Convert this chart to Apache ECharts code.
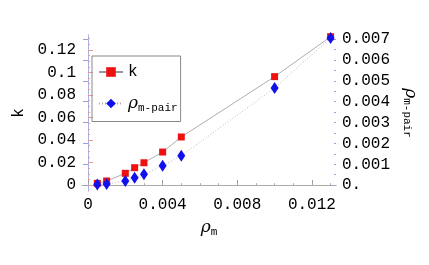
<!DOCTYPE html>
<html><head><meta charset="utf-8">
<script src="https://cdn.jsdelivr.net/npm/echarts@6/dist/echarts.min.js"></script>
<style>html,body{margin:0;padding:0;background:#fff}#c{width:429px;height:265px}</style>
</head><body><div id="c"></div>
<script>
// data
const rhoM = [0.0005, 0.001, 0.002, 0.0025, 0.003, 0.004, 0.005, 0.010, 0.013];
const kValues = [0.0015, 0.0036, 0.0104, 0.0154, 0.0198, 0.0293, 0.0427, 0.0963, 0.1318];
const rhoPair = [0.00003, 0.00005, 0.0002, 0.00036, 0.00052, 0.00093, 0.00141, 0.00466, 0.00706];
const xTicks = [0, 0.004, 0.008, 0.012];
const kTicks = [0, 0.02, 0.04, 0.06, 0.08, 0.10, 0.12];
const pairTicks = [0, 0.001, 0.002, 0.003, 0.004, 0.005, 0.006, 0.007];

const mono = 'Liberation Mono';
const xMinor = []; for (let i = 0; i <= 13; i++) xMinor.push(+(i * 0.001).toFixed(4));
const kMinor = []; for (let i = 0; i <= 26; i++) kMinor.push(+(i * 0.005).toFixed(4));
const pMinor = []; for (let i = 0; i <= 14; i++) pMinor.push(+(i * 0.0005).toFixed(5));

const chart = echarts.init(document.getElementById('c'), null, {renderer: 'canvas'});
const nameRich = {
  r: {fontFamily: 'DejaVu Serif', fontStyle: 'italic', fontSize: 17, color: '#000'},
  s: {fontFamily: mono, fontSize: 11, color: '#000', padding: [9, 0, 0, 0]}
};
const grid = {left: 82, right: 93, top: 35, bottom: 74, containLabel: false};
const xmin = -0.00032, xmax = 0.01329;
const kmin = -0.0053, kmax = 0.1333;
const pmin = -0.00028, pmax = 0.0072;
chart.setOption({
  animation: false,
  grid: grid,
  legend: {
    left: 92, top: 56, orient: 'vertical',
    borderColor: '#888', borderWidth: 1, padding: [8, 3, 8, 6],
    itemWidth: 24, itemHeight: 12, itemGap: 15,
    formatter: function (n) { return n === 'k' ? '{k|k}' : '{r|ρ}{s|m-pair}'; },
    textStyle: {rich: {k: {fontFamily: mono, fontSize: 16, color: '#000'}, r: nameRich.r, s: nameRich.s}}
  },
  xAxis: [{
    type: 'value', min: xmin, max: xmax, position: 'bottom',
    name: '{r|ρ}{s|m}', nameLocation: 'middle', nameGap: 27,
    nameTextStyle: {rich: nameRich},
    axisLine: {show: true, lineStyle: {color: '#aaa', width: 1}},
    axisTick: {show: true, inside: true, length: 5, customValues: xTicks, lineStyle: {color: '#999'}},
    axisLabel: {customValues: xTicks, fontFamily: mono, fontSize: 16, color: '#000', margin: 6,
      formatter: function (v) { return v === 0 ? '0' : v.toFixed(3); }},
    splitLine: {show: false}
  }, {
    type: 'value', min: xmin, max: xmax, position: 'bottom',
    axisLine: {show: false},
    axisTick: {show: true, inside: true, length: 2, customValues: xMinor, lineStyle: {color: '#aaa'}},
    axisLabel: {show: false}, splitLine: {show: false}
  }, {
    type: 'value', min: xmin, max: xmax, position: 'top',
    axisLine: {show: true, lineStyle: {color: '#aaa', width: 1}},
    axisTick: {show: false}, axisLabel: {show: false}, splitLine: {show: false}
  }],
  yAxis: [{
    type: 'value', min: kmin, max: kmax, position: 'left',
    name: 'k', nameLocation: 'middle', nameGap: 53, nameRotate: 90,
    nameTextStyle: {fontFamily: mono, fontSize: 16, color: '#000'},
    axisLine: {show: true, lineStyle: {color: '#f0a8a8', width: 1}},
    axisTick: {show: true, inside: true, length: 5, customValues: kTicks, lineStyle: {color: '#e89a9a'}},
    axisLabel: {customValues: kTicks, fontFamily: mono, fontSize: 16, color: '#000', margin: 6,
      formatter: function (v) { return v === 0 ? '0' : String(Number(v.toFixed(2))); }},
    splitLine: {show: false}
  }, {
    type: 'value', min: pmin, max: pmax, position: 'right',
    name: '{r|ρ}{s|m-pair}', nameLocation: 'middle', nameGap: 64, nameRotate: -90,
    nameTextStyle: {rich: nameRich},
    axisLine: {show: true, lineStyle: {color: '#aab0e0', width: 1}},
    axisTick: {show: true, inside: true, length: 5, customValues: pairTicks, lineStyle: {color: '#9aa0d8'}},
    axisLabel: {customValues: pairTicks, fontFamily: mono, fontSize: 16, color: '#000', margin: 6,
      formatter: function (v) { return v === 0 ? '0.' : v.toFixed(3); }},
    splitLine: {show: false}
  }, {
    type: 'value', min: kmin, max: kmax, position: 'left',
    axisLine: {show: false},
    axisTick: {show: true, inside: true, length: 2, customValues: kMinor, lineStyle: {color: '#e89a9a'}},
    axisLabel: {show: false}, splitLine: {show: false}
  }, {
    type: 'value', min: pmin, max: pmax, position: 'right',
    axisLine: {show: false},
    axisTick: {show: true, inside: true, length: 2, customValues: pMinor, lineStyle: {color: '#9aa0d8'}},
    axisLabel: {show: false}, splitLine: {show: false}
  }],
  series: [{
    name: 'k', type: 'line', xAxisIndex: 0, yAxisIndex: 0,
    data: rhoM.map((x, i) => [x, kValues[i]]),
    symbol: 'rect', symbolSize: 7, itemStyle: {color: '#ee1111'},
    lineStyle: {color: '#999', width: 0.8}, z: 3
  }, {
    name: 'rho', type: 'line', xAxisIndex: 0, yAxisIndex: 1,
    data: rhoM.map((x, i) => [x, rhoPair[i]]),
    symbol: 'diamond', symbolSize: [8, 12], itemStyle: {color: '#1111ee'},
    lineStyle: {color: '#aaa', width: 0.8, type: [1, 2]}, z: 4
  }]
});
</script></body></html>
